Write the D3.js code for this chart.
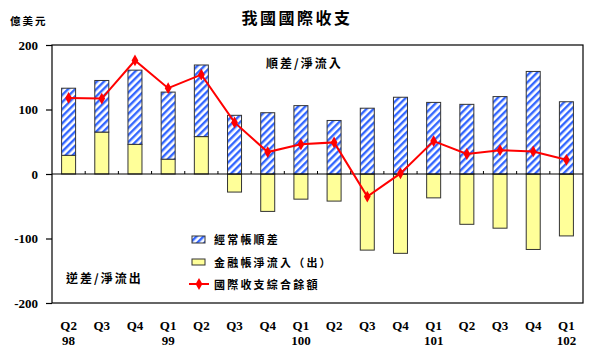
<!DOCTYPE html>
<html><head><meta charset="utf-8">
<script src="https://cdn.jsdelivr.net/npm/d3@7/dist/d3.min.js"></script>
<style>
body{margin:0;background:#fff;}
svg{display:block;}
</style></head>
<body><svg id="chart" width="605" height="359"></svg>
<script>
const quarters = ["Q2","Q3","Q4","Q1","Q2","Q3","Q4","Q1","Q2","Q3","Q4","Q1","Q2","Q3","Q4","Q1"];
const years = ["98","","","99","","","","100","","","","101","","","","102"];
const currentAccount = [104, 80, 115, 104, 111, 91, 95, 106, 83, 102, 119, 111, 108, 120, 159, 112];
const financialAccount = [29, 65, 46, 23, 58, -28, -58, -39, -42, -118, -123, -37, -78, -84, -117, -96];
const overallBalance = [118, 117, 176, 133, 154, 80, 34, 46, 49, -35, 1, 51, 31, 37, 35, 22];
const yTicks = [200, 100, 0, -100, -200];
const legendLabels = ["經常帳順差", "金融帳淨流入（出）", "國際收支綜合餘額"];

const svg = d3.select("#chart");
const L = 52, R = 583, T = 45, B = 303;
const idx = d3.range(quarters.length);
const x = d3.scaleBand().domain(idx).range([L, R]).paddingInner(0).paddingOuter(0);
const y = d3.scaleLinear().domain([-200, 200]).range([B, T]);
const cjk = "'Noto Sans CJK TC','Noto Sans CJK SC',sans-serif";
const serif = "'Liberation Serif','Times New Roman',serif";

const defs = svg.append("defs");
const pat = defs.append("pattern").attr("id","hatch").attr("patternUnits","userSpaceOnUse")
  .attr("width",5).attr("height",5).attr("patternTransform","rotate(45)");
pat.append("rect").attr("width",5).attr("height",5).attr("fill","#fff");
pat.append("rect").attr("width",2.4).attr("height",5).attr("fill","#3366ff");

// title & unit
svg.append("text").attr("x",297).attr("y",24).attr("text-anchor","middle")
  .attr("font-family",cjk).attr("font-weight","bold").attr("font-size",16).attr("letter-spacing",2.5).text("我國國際收支");
svg.append("text").attr("x",10).attr("y",25)
  .attr("font-family",cjk).attr("font-weight","bold").attr("font-size",10.5).attr("letter-spacing",2).text("億美元");

// frame
svg.append("rect").attr("x",L).attr("y",T).attr("width",R-L).attr("height",B-T)
  .attr("fill","none").attr("stroke","#000").attr("stroke-width",1.2);

// y axis
const yAxis = d3.axisLeft(y).tickValues(yTicks).tickSize(6).tickPadding(8).tickFormat(d3.format("d"));
const ya = svg.append("g").attr("transform",`translate(${L},0)`).call(yAxis);
ya.select(".domain").remove();
ya.selectAll("line").attr("stroke","#000").attr("stroke-width",1.2);
ya.selectAll("text").attr("font-family",serif).attr("font-weight","bold").attr("font-size",13).attr("fill","#000")
  .text(d => d < 0 ? "-" + Math.abs(d) : d);

const bw = 14;
const bx = i => x(i) + x.bandwidth()/2 - bw/2;
// financial (yellow)
svg.append("g").selectAll("rect").data(idx).join("rect")
  .attr("x", bx).attr("width", bw)
  .attr("y", i => y(Math.max(0, financialAccount[i])))
  .attr("height", i => Math.abs(y(financialAccount[i]) - y(0)))
  .attr("fill","#ffff99").attr("stroke","#333").attr("stroke-width",1);
// current (hatched)
svg.append("g").selectAll("rect").data(idx).join("rect")
  .attr("x", bx).attr("width", bw)
  .attr("y", i => { const base = Math.max(0, financialAccount[i]); return y(base + currentAccount[i]); })
  .attr("height", i => y(0) - y(currentAccount[i]))
  .attr("fill","url(#hatch)").attr("stroke","#333").attr("stroke-width",1);

// zero axis with ticks
svg.append("line").attr("x1",L).attr("x2",R).attr("y1",y(0)).attr("y2",y(0)).attr("stroke","#000").attr("stroke-width",1.2);
svg.append("g").selectAll("line").data(d3.range(1, quarters.length)).join("line")
  .attr("x1", i => x(i)).attr("x2", i => x(i)).attr("y1", y(0)-3).attr("y2", y(0))
  .attr("stroke","#000").attr("stroke-width",1);

// line
const line = d3.line().x(i => x(i) + x.bandwidth()/2).y(i => y(overallBalance[i]));
svg.append("path").datum(idx).attr("d", line).attr("fill","none").attr("stroke","#ff0000").attr("stroke-width",2);
const diamond = d3.symbol().type(d3.symbolDiamond).size(40);
svg.append("g").selectAll("path").data(idx).join("path")
  .attr("transform", i => `translate(${x(i)+x.bandwidth()/2},${y(overallBalance[i])})`)
  .attr("d", diamond).attr("fill","#ff0000");

// x labels
const xl = svg.append("g");
xl.selectAll("text.q").data(idx).join("text").attr("class","q")
  .attr("x", i => x(i) + x.bandwidth()/2).attr("y", 330).attr("text-anchor","middle")
  .attr("font-family",serif).attr("font-weight","bold").attr("font-size",13).text(i => quarters[i]);
xl.selectAll("text.yr").data(idx).join("text").attr("class","yr")
  .attr("x", i => x(i) + x.bandwidth()/2).attr("y", 345).attr("text-anchor","middle")
  .attr("font-family",serif).attr("font-weight","bold").attr("font-size",13).text(i => years[i]);

// annotations
svg.append("text").attr("x",266).attr("y",68).attr("font-family",cjk).attr("font-weight","bold").attr("font-size",12).attr("letter-spacing",2).text("順差/淨流入");
svg.append("text").attr("x",66).attr("y",283).attr("font-family",cjk).attr("font-weight","bold").attr("font-size",12).attr("letter-spacing",2).text("逆差/淨流出");

// legend
const lg = svg.append("g");
lg.append("rect").attr("x",192).attr("y",236).attr("width",13).attr("height",7).attr("fill","url(#hatch)").attr("stroke","#333");
lg.append("rect").attr("x",192).attr("y",259).attr("width",13).attr("height",6).attr("fill","#ffff99").attr("stroke","#333");
lg.append("line").attr("x1",189).attr("x2",209).attr("y1",284).attr("y2",284).attr("stroke","#ff0000").attr("stroke-width",2);
lg.append("path").attr("transform","translate(199,284)").attr("d",diamond).attr("fill","#ff0000");
lg.selectAll("text").data(legendLabels).join("text")
  .attr("x",214).attr("y",(d,i)=>244 + i*22.5)
  .attr("font-family",cjk).attr("font-weight","bold").attr("font-size",11).attr("letter-spacing",2.2).text(d=>d);
</script></body></html>
